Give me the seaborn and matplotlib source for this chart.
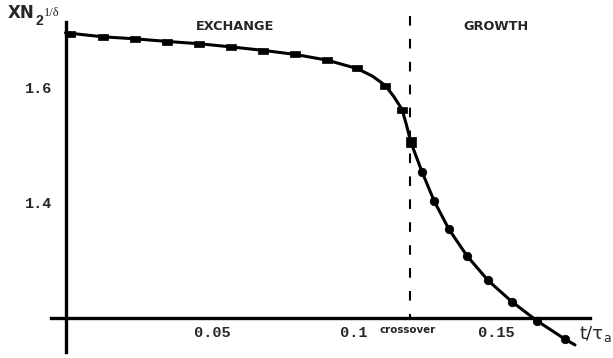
import matplotlib
matplotlib.use("Agg")
import matplotlib.pyplot as plt
import seaborn as sns
import pandas as pd

# ---- data ----
exch_t = [0.0016, 0.0132, 0.0245, 0.0357, 0.0470, 0.0583, 0.0695, 0.0808, 0.0921, 0.1026, 0.1125, 0.1185]
exch_v = [1.693, 1.687, 1.684, 1.6795, 1.6755, 1.670, 1.664, 1.6575, 1.648, 1.633, 1.603, 1.561]
cross_t = [0.1216]
cross_v = [1.505]
growth_t = [0.1255, 0.1298, 0.1350, 0.1414, 0.1488, 0.1572, 0.1660, 0.1759]
growth_v = [1.454, 1.403, 1.354, 1.3075, 1.265, 1.228, 1.195, 1.163]

curve_t = [0.0, 0.0132, 0.0245, 0.0357, 0.0470, 0.0583, 0.0695, 0.0808, 0.0921, 0.1026, 0.108,
           0.1125, 0.1155, 0.1185, 0.1200, 0.1216, 0.1255, 0.1298, 0.1350, 0.1414, 0.1488,
           0.1572, 0.1660, 0.1759, 0.1794]
curve_v = [1.695, 1.688, 1.6845, 1.680, 1.676, 1.6705, 1.6645, 1.6575, 1.6475, 1.633, 1.620,
           1.604, 1.585, 1.562, 1.536, 1.505, 1.454, 1.403, 1.354, 1.3075, 1.265,
           1.228, 1.195, 1.163, 1.153]

crossover_t = 0.1213
xticks_major = [0.05, 0.10, 0.15]
xtick_labels = ["0.05", "0.1", "0.15"]
xticks_minor = [0.025, 0.075, 0.125, 0.175]
yticks_major = [1.4, 1.6]
ytick_labels = ["1.4", "1.6"]
yticks_minor = [1.3, 1.5, 1.7]

sns.set_style("white")

W, H = 613, 358
fig = plt.figure(figsize=(W / 100, H / 100), dpi=100)
ax = fig.add_axes([0, 0, 1, 1])
ax.patch.set_alpha(0)

curve = pd.DataFrame({"t": curve_t, "v": curve_v})
sns.lineplot(data=curve, x="t", y="v", ax=ax, color="black", lw=2.2, sort=False,
             estimator=None, zorder=3)

rect = [(-1, -0.62), (1, -0.62), (1, 0.62), (-1, 0.62), (-1, -0.62)]
sns.scatterplot(x=exch_t, y=exch_v, ax=ax, marker=rect, s=55, color="black",
                edgecolor="black", linewidth=0.5, zorder=4)
sns.scatterplot(x=cross_t, y=cross_v, ax=ax, marker="s", s=50, color="black",
                edgecolor="black", linewidth=0.5, zorder=4)
sns.scatterplot(x=growth_t, y=growth_v, ax=ax, marker="o", s=38, color="black",
                edgecolor="black", linewidth=0.5, zorder=4)

# crossover dashed line
ax.plot([crossover_t, crossover_t], [1.724, 1.2], color="black", lw=1.5,
        dashes=(4.6, 6.4), zorder=2)

ax.set_xlim(-65.5 / 2840, (W - 65.5) / 2840)
ax.set_ylim(1.6 - (H - 87.5) / 576, 1.6 + 87.5 / 576)
ax.set_xlabel("")
ax.set_ylabel("")

for s in ["top", "right"]:
    ax.spines[s].set_visible(False)
ax.spines["left"].set_position(("data", 0))
ax.spines["bottom"].set_position(("data", 1.2))
ax.spines["left"].set_bounds(1.1408, 1.714)
ax.spines["bottom"].set_bounds(-0.0051, 0.1847)
for s in ["left", "bottom"]:
    ax.spines[s].set_linewidth(2.4)
    ax.spines[s].set_color("black")

ax.set_xticks(xticks_major)
ax.set_xticklabels([" " + l for l in xtick_labels])
ax.set_xticks(xticks_minor, minor=True)
ax.set_yticks(yticks_major)
ax.set_yticklabels(ytick_labels)
ax.set_yticks(yticks_minor, minor=True)
ax.tick_params(which="both", direction="in", length=4, width=2, color="black")
ax.tick_params(axis="x", which="major", pad=6)
ax.tick_params(axis="y", which="major", pad=9.5)
for lab in ax.get_xticklabels() + ax.get_yticklabels():
    lab.set_fontfamily("Liberation Mono")
    lab.set_fontweight("bold")
    lab.set_fontsize(11)


def px(x, y):
    return x / W, 1 - y / H


ax.text(*px(235, 29.5), "EXCHANGE", transform=fig.transFigure, ha="center", va="baseline",
        fontfamily="DejaVu Sans", fontweight="bold", fontsize=9.3)
ax.text(*px(496, 29.5), "GROWTH", transform=fig.transFigure, ha="center", va="baseline",
        fontfamily="DejaVu Sans", fontweight="bold", fontsize=9.3)
ax.text(*px(408, 333), "crossover", transform=fig.transFigure, ha="center", va="baseline",
        fontfamily="DejaVu Sans", fontweight="bold", fontsize=7.4)

# y axis label
ax.text(*px(8, 18.5), "XN", transform=fig.transFigure, ha="left", va="baseline",
        fontfamily="DejaVu Sans", fontweight="bold", fontsize=12)
ax.text(*px(35.5, 25), "2", transform=fig.transFigure, ha="left", va="baseline",
        fontfamily="Liberation Sans", fontweight="bold", fontsize=10)
ax.text(*px(43.5, 16), "1/δ", transform=fig.transFigure, ha="left", va="baseline",
        fontfamily="Liberation Serif", fontsize=9)

# x axis label
ax.text(*px(579, 338), "t/τ", transform=fig.transFigure, ha="left", va="baseline",
        fontfamily="DejaVu Sans", fontsize=13)
ax.text(*px(603, 342), "a", transform=fig.transFigure, ha="left", va="baseline",
        fontfamily="DejaVu Sans", fontsize=9)

fig.savefig("out.png", dpi=100)
